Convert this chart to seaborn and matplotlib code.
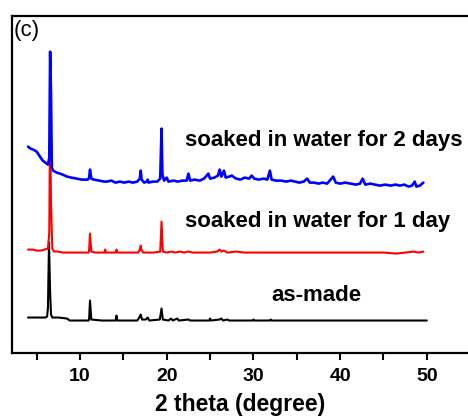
import matplotlib
matplotlib.use("Agg")
import matplotlib.pyplot as plt
import pandas as pd
import seaborn as sns

# ---------------------------------
# XRD data (2 theta in degree, intensity in a.u., offset stacked)
# ---------------------------------
two_days_x = [4.0, 4.3, 4.6, 5.0, 5.3, 5.7, 6.0, 6.3, 6.45, 6.55, 6.65, 6.75, 6.9, 7.3, 7.7,
              8.0, 8.5, 9.0, 9.6, 10.2, 10.9, 11.05, 11.15, 11.3, 11.6, 12.2, 12.8, 13.1, 13.6,
              14.1, 14.6, 15.1, 15.6, 16.1, 16.6, 16.9, 17.0, 17.1, 17.4, 17.7, 17.8, 17.9, 18.4,
              18.9, 19.25, 19.4, 19.5, 19.7, 20.0, 20.2, 20.8, 21.3, 21.8, 22.3, 22.5, 22.7, 23.2,
              23.8, 24.3, 24.8, 25.0, 25.5, 25.9, 26.1, 26.3, 26.6, 26.8, 27.2, 27.5, 28.0, 28.5,
              29.0, 29.5, 29.8, 30.1, 30.6, 31.2, 31.6, 31.9, 32.1, 32.6, 33.2, 33.8, 34.3, 34.8,
              35.3, 35.8, 36.2, 36.5, 37.0, 37.5, 38.0, 38.5, 39.2, 39.5, 40.0, 40.6, 41.2, 41.8,
              42.3, 42.6, 42.9, 43.5, 44.0, 44.6, 45.2, 45.8, 46.4, 46.9, 47.4, 47.9, 48.3, 48.6,
              48.8, 49.2, 49.6]
two_days_y = [206, 204, 203, 201, 197, 192, 190, 188, 195, 301, 260, 185, 182, 180, 179,
              178, 176, 175, 174, 173, 173, 175, 183, 174, 173, 172, 171, 171, 172,
              170, 171, 170, 171, 170, 171, 174, 182, 173, 170, 171, 173, 170, 171,
              171, 174, 224, 178, 172, 175, 171, 172, 171, 172, 172, 179, 172, 173,
              172, 174, 179, 174, 175, 177, 183, 176, 182, 175, 176, 177, 174, 173,
              175, 174, 177, 174, 173, 174, 173, 182, 173, 172, 172, 171, 172, 171,
              170, 171, 174, 170, 170, 169, 170, 169, 176, 170, 169, 170, 169, 168,
              169, 174, 168, 169, 168, 167, 168, 167, 168, 167, 168, 166, 167, 171,
              166, 167, 170]

one_day_x = [4.0, 4.5, 5.0, 5.5, 5.9, 6.3, 6.45, 6.55, 6.65, 6.8, 7.0, 7.5, 8.0, 9.0, 10.0,
             11.0, 11.05, 11.15, 11.3, 11.8, 12.8, 12.9, 13.0, 14.1, 14.2, 14.3, 15.5, 16.7,
             16.9, 17.0, 17.1, 17.3, 18.5, 19.25, 19.4, 19.55, 20.0, 20.5, 21.0, 21.5, 22.0,
             22.5, 23.0, 24.0, 25.0, 25.8, 26.1, 26.3, 26.6, 27.0, 28.0, 29.0, 30.0, 31.0,
             32.0, 33.0, 35.0, 37.0, 39.0, 41.0, 43.0, 45.0, 46.5, 47.5, 48.5, 49.0, 49.6]
one_day_y = [103, 103, 102, 102, 103, 104, 120, 230, 150, 104, 101, 101, 100, 100, 100,
             100, 103, 119, 101, 100, 100, 103, 100, 100, 103, 100, 100, 100,
             103, 107, 102, 100, 100, 101, 131, 101, 100, 101, 100, 101, 100,
             101, 100, 100, 100, 101, 103, 101, 102, 100, 101, 100, 100, 100,
             100, 100, 100, 100, 100, 100, 100, 100, 99, 100, 101, 100, 101]

as_made_x = [4.0, 4.5, 5.0, 5.5, 6.0, 6.2, 6.3, 6.42, 6.55, 6.65, 6.8, 7.5, 8.5, 8.8, 10.0,
             11.0, 11.05, 11.15, 11.3, 12.5, 14.1, 14.2, 14.3, 16.6, 16.9, 17.0, 17.15, 17.6,
             17.8, 18.0, 19.2, 19.4, 19.55, 20.2, 20.5, 20.7, 21.2, 21.4, 22.5, 22.7, 24.9,
             25.0, 25.1, 26.1, 26.3, 26.5, 27.0, 27.2, 29.9, 30.0, 30.1, 31.9, 32.0, 32.1, 50.0]
as_made_y = [35, 35, 35, 35, 35, 36, 45, 110, 60, 38, 35, 35, 34, 32, 32,
             32, 34, 52, 33, 32, 32, 37, 32, 32, 36, 38, 33, 33,
             35, 32, 33, 44, 33, 32, 34, 32, 34, 32, 33, 32, 32,
             34, 32, 33, 34, 32, 33, 32, 32, 33, 32, 32, 33, 32, 32]

labels = ["soaked in water for 2 days", "soaked in water for 1 day", "as-made"]
label_pos = [(22.1, 212), (22.1, 131), (32.1, 57)]
xticks = [10, 20, 30, 40, 50]

# ---------------------------------
# Plot
# ---------------------------------
sns.set_style("ticks")
plt.rcParams["font.family"] = ["Liberation Sans", "DejaVu Sans"]
plt.rcParams["text.color"] = "black"
plt.rcParams["axes.labelcolor"] = "black"
plt.rcParams["xtick.color"] = "black"
plt.rcParams["axes.edgecolor"] = "black"

fig = plt.figure(figsize=(4.68, 4.19), dpi=100)
ax = fig.add_axes([0.0256, 0.1587, 0.9744, 0.8038])

curves = [
    (as_made_x, as_made_y, "black", 1.5),
    (one_day_x, one_day_y, "#ff0000", 1.5),
    (two_days_x, two_days_y, "#0000ff", 1.9),
]
for xs, ys, col, lw in curves:
    df = pd.DataFrame({"2theta": xs, "I": ys})
    sns.lineplot(data=df, x="2theta", y="I", color=col, linewidth=lw,
                 estimator=None, sort=False, ax=ax)

for txt, (tx, ty) in zip(labels, label_pos):
    ax.text(tx, ty, txt, fontsize=16, fontweight="bold", ha="left", va="center")
ax.text(2.3, 322, "(c)", fontsize=16, ha="left", va="center")

ax.set_xlim(2.15, 54.75)
ax.set_ylim(0, 337)
ax.set_xticks(xticks)
ax.set_xticks([5, 15, 25, 35, 45], minor=True)
ax.set_yticks([])
ax.tick_params(axis="x", which="both", direction="out", length=5, width=1.5,
               labelsize=14, pad=6)
for lab in ax.get_xticklabels():
    lab.set_fontweight("bold")
ax.set_xlabel("2 theta (degree)", fontsize=16.5, fontweight="bold", labelpad=6)
ax.set_ylabel("")
for side in ["left", "bottom", "top"]:
    ax.spines[side].set_linewidth(1.6)
ax.spines["right"].set_visible(False)

fig.savefig("out.png", dpi=100)
plt.close(fig)
